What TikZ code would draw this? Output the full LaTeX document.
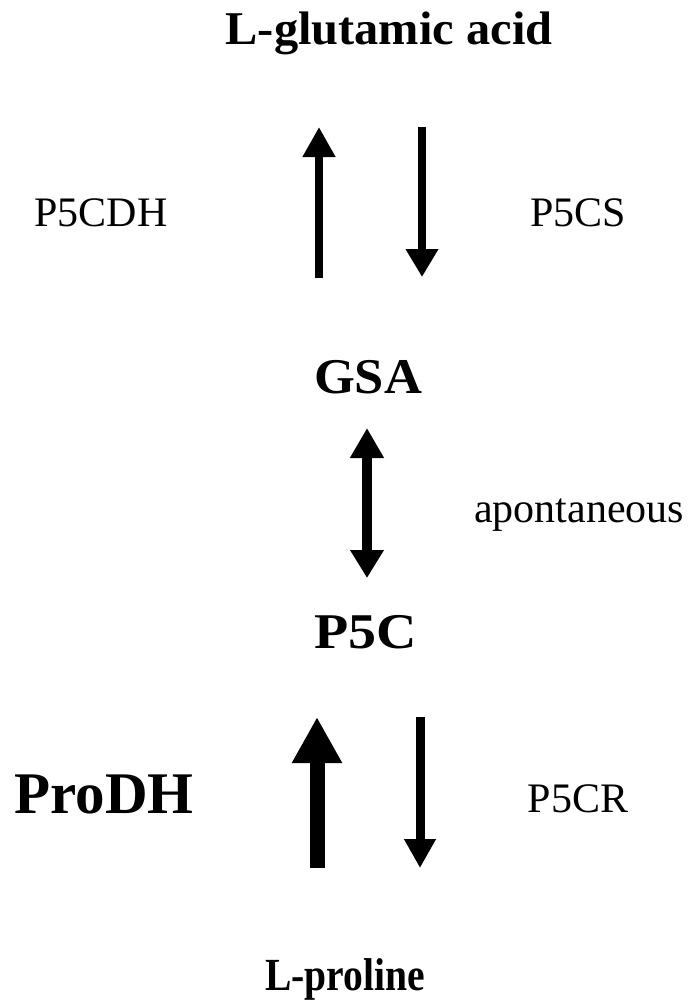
\documentclass[tikz,border=0pt]{standalone}
\usepackage{fontspec}
\setmainfont{Liberation Serif}
\usetikzlibrary{arrows.meta}
\tikzset{
  boldlbl/.style={anchor=base, inner sep=0pt, font=\bfseries},
  plainlbl/.style={anchor=base, inner sep=0pt, font=\fontsize{42}{48}\selectfont},
  flux/.style={draw=black, line cap=butt},
}
\begin{document}
\begin{tikzpicture}[x=1pt,y=-1pt]
\useasboundingbox[fill=white] (0,0) rectangle (688,1006);
% metabolites
\node[boldlbl, font=\bfseries\fontsize{47}{52}\selectfont, xscale=1.03] (glu) at (389,45) {L-glutamic acid};
\node[boldlbl, font=\bfseries\fontsize{50}{56}\selectfont, xscale=1.05] (gsa) at (368,393) {GSA};
\node[boldlbl, font=\bfseries\fontsize{50}{56}\selectfont, xscale=1.12] (p5c) at (366,648) {P5C};
\node[boldlbl, font=\bfseries\fontsize{46}{52}\selectfont, xscale=0.86] (pro) at (345,990) {L-proline};
% enzymes
\node[plainlbl] (p5cdh) at (101,226) {P5CDH};
\node[plainlbl] (p5cs) at (578,226) {P5CS};
\node[plainlbl] (spont) at (579,522) {apontaneous};
\node[plainlbl] (p5cr) at (578,812) {P5CR};
\node[boldlbl, font=\bfseries\fontsize{59}{64}\selectfont] (prodh) at (104,813) {ProDH};
% arrow end points
\coordinate (a1s) at (319,278); \coordinate (a1e) at (319,127);
\coordinate (a2s) at (422,127); \coordinate (a2e) at (422,277);
\coordinate (a3s) at (367,428); \coordinate (a3e) at (367,578);
\coordinate (a4s) at (317,868); \coordinate (a4e) at (317,717);
\coordinate (a5s) at (420,717); \coordinate (a5e) at (420,868);
% arrows
\draw[flux, line width=8pt, -{Triangle[width=31pt,length=30pt]}] (a1s) -- (a1e);
\draw[flux, line width=8pt, -{Triangle[width=31pt,length=28pt]}] (a2s) -- (a2e);
\draw[flux, line width=10pt, {Triangle[width=32pt,length=30pt]}-{Triangle[width=32pt,length=28pt]}] (a3s) -- (a3e);
\draw[flux, line width=15pt, -{Triangle[width=47pt,length=46pt]}] (a4s) -- (a4e);
\draw[flux, line width=9pt, -{Triangle[width=30pt,length=29pt]}] (a5s) -- (a5e);
\end{tikzpicture}
\end{document}
